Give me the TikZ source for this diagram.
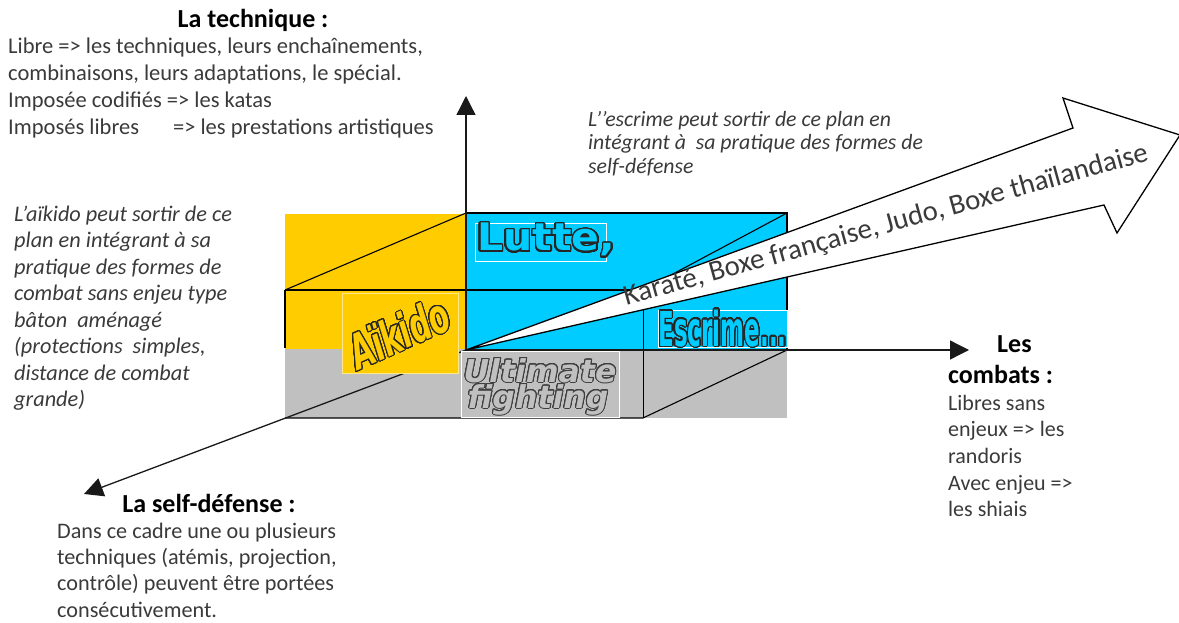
\documentclass[tikz,border=0pt]{standalone}
\usepackage{fontspec}
\setmainfont{Carlito}
\newfontfamily\djv{DejaVu Sans}[BoldFont={DejaVu Sans Bold},BoldItalicFont={DejaVu Sans Bold Oblique},ItalicFont={DejaVu Sans Oblique}]
\newfontfamily\djvwide{DejaVu Sans Bold}[FakeStretch=1.08]
\newfontfamily\djvnarrow{DejaVu Sans Bold}[FakeStretch=0.48]
\newfontfamily\djvaik{DejaVu Sans Bold Oblique}[FakeStretch=0.62]
\usepackage[copies]{contour}
\contournumber{32}
\usetikzlibrary{arrows.meta}
\definecolor{ylw}{HTML}{FFCC00}
\definecolor{cyn}{HTML}{00CCFF}
\definecolor{gry}{HTML}{C0C0C0}
\definecolor{txt}{HTML}{3A3A3A}
\begin{document}
\begin{tikzpicture}[x=1pt,y=-1pt,
  edge/.style={line width=1.1pt,draw=black},
  axis/.style={line width=1.3pt,draw=black!90,-{Triangle[length=19pt,width=19pt]}},
  bigarrow/.style={line width=1.3pt,draw=black,fill=white,line join=miter},
  lbox/.style={draw=white,line width=0.8pt,inner sep=0pt,outer sep=0pt},
  ttl/.style={font=\bfseries\fontsize{26}{31}\selectfont,text=black,inner sep=0pt},
  body/.style={font=\fontsize{22.5}{27}\selectfont,text=txt,align=left,inner sep=0pt,anchor=north west},
  ital/.style={font=\itshape\fontsize{22.3}{26.5}\selectfont,text=txt,align=left,inner sep=0pt,anchor=north west},
  wordart/.style={inner sep=0pt}
]
\useasboundingbox (0,0) rectangle (1179,623);

% coordinates
\coordinate (O) at (466,350);
\coordinate (Ytip) at (466,96);
\coordinate (Xtip) at (969,350);
\coordinate (Ztip) at (84,494);
\coordinate (FTL) at (285,290);
\coordinate (FTR) at (643,290);
\coordinate (FBL) at (285,418);
\coordinate (FBR) at (643,418);
\coordinate (BTL) at (466,213);
\coordinate (BTR) at (787,213);
\coordinate (BBR) at (787,350);

% fills
\fill[ylw] (285,214) rectangle (466,349);
\fill[cyn] (466,213) rectangle (787,349);
\fill[gry] (285,349) rectangle (787,418);

% box edges
\draw[edge] (FTL) -- (BTL);
\draw[edge] (FTL) -- (FTR);
\draw[edge] (FTL) -- (285,348);
\draw[edge] (BTL) -- (BTR) -- (BBR);
\draw[edge] (FTR) -- (BTR);
\draw[edge,line width=0.9pt] (FTR) -- (FBR);
\draw[edge] (FBL) -- (FBR) -- (BBR);

% axes
\draw[axis] (O) -- (Ytip);
\draw[axis] (O) -- (Xtip);
\draw[axis] (O) -- (Ztip);

% big arrow
\coordinate (N1) at (1073,128);
\coordinate (B1) at (1063,98);
\coordinate (T) at (1180,135);
\coordinate (B2) at (1117,233);
\coordinate (N2) at (1104,205);
\draw[bigarrow] (O) -- (N1) -- (B1) -- (T) -- (B2) -- (N2) -- cycle;
\node[anchor=base,rotate=15.5,inner sep=0pt,font=\fontsize{28.8}{28.8}\selectfont,text=txt] (styles) at (888,233) {Karaté, Boxe française, Judo, Boxe thaïlandaise};

% label boxes
\node[lbox,fill=cyn,minimum width=131pt,minimum height=38pt] (lutteBox) at (540.5,242) {};
\node[lbox,fill=ylw,draw=white!55!ylw,minimum width=116pt,minimum height=80pt] (aikBox) at (400,333) {};
\node[lbox,fill=gry,minimum width=158pt,minimum height=66pt] (ultBox) at (540,384) {};
\node[lbox,fill=cyn,minimum width=129pt,minimum height=37pt] (escBox) at (722.5,328.5) {};

% word-art labels
\contourlength{1.5pt}
\node[wordart,anchor=base west,text=cyn,font=\djvwide\fontsize{38}{40}\selectfont] (lutte) at (477,251) {\contour{black!85}{Lutte,}};
\contourlength{1.2pt}
\node[wordart,anchor=base,text=cyn,font=\djvnarrow\fontsize{48}{48}\selectfont] (escrime) at (722.5,346) {\contour{black!85}{Escrime...}};
\contourlength{1.0pt}
\node[wordart,rotate=24,text=ylw,font=\djvaik\fontsize{48}{48}\selectfont] (aikido) at (399,333) {\contour{black!85}{Aïkido}};
\node[wordart,anchor=base,text=gry,font=\djv\bfseries\itshape\fontsize{31.5}{31.5}\selectfont] (ult1) at (540,382) {\contour{black!75}{Ultimate}};
\node[wordart,anchor=base,text=gry,font=\djv\bfseries\itshape\fontsize{31.5}{31.5}\selectfont] (ult2) at (538,408) {\contour{black!75}{fighting}};

% texts
\node[ttl,anchor=base] (techT) at (253,28) {La technique :};
\node[body] (techB) at (8,34.1) {\strut Libre => les techniques, leurs enchaînements,\\combinaisons, leurs adaptations, le spécial.\\Imposée codifiés => les katas\\Imposés libres\hspace{34pt}=> les prestations artistiques};

\node[ital] (aikT) at (14,202.5) {\strut L'aïkido peut sortir de ce\\plan en intégrant à sa\\pratique des formes de\\combat sans enjeu type\\bâton\ \ aménagé\\(protections\ \ simples,\\distance de combat\\grande)};

\node[ital,font=\itshape\fontsize{21.8}{23.5}\selectfont] (escT) at (588,109.5) {\strut L'{}'escrime peut sortir de ce plan en\\intégrant à\ \ sa pratique des formes de\\self-défense};

\node[ttl,anchor=base] (selfT) at (209,512) {La self-défense :};
\node[body,font=\fontsize{22.2}{26.4}\selectfont] (selfB) at (57,519.5) {\strut Dans ce cadre une ou plusieurs\\techniques (atémis, projection,\\contrôle) peuvent être portées\\consécutivement.};

\node[ttl,anchor=base west] (combT1) at (997,352) {Les};
\node[ttl,anchor=base west] (combT2) at (948,383) {combats :};
\node[body,font=\fontsize{22}{26.6}\selectfont] (combB) at (948,391.4) {\strut Libres sans\\enjeux => les\\randoris\\Avec enjeu =>\\les shiais};
\end{tikzpicture}
\end{document}
